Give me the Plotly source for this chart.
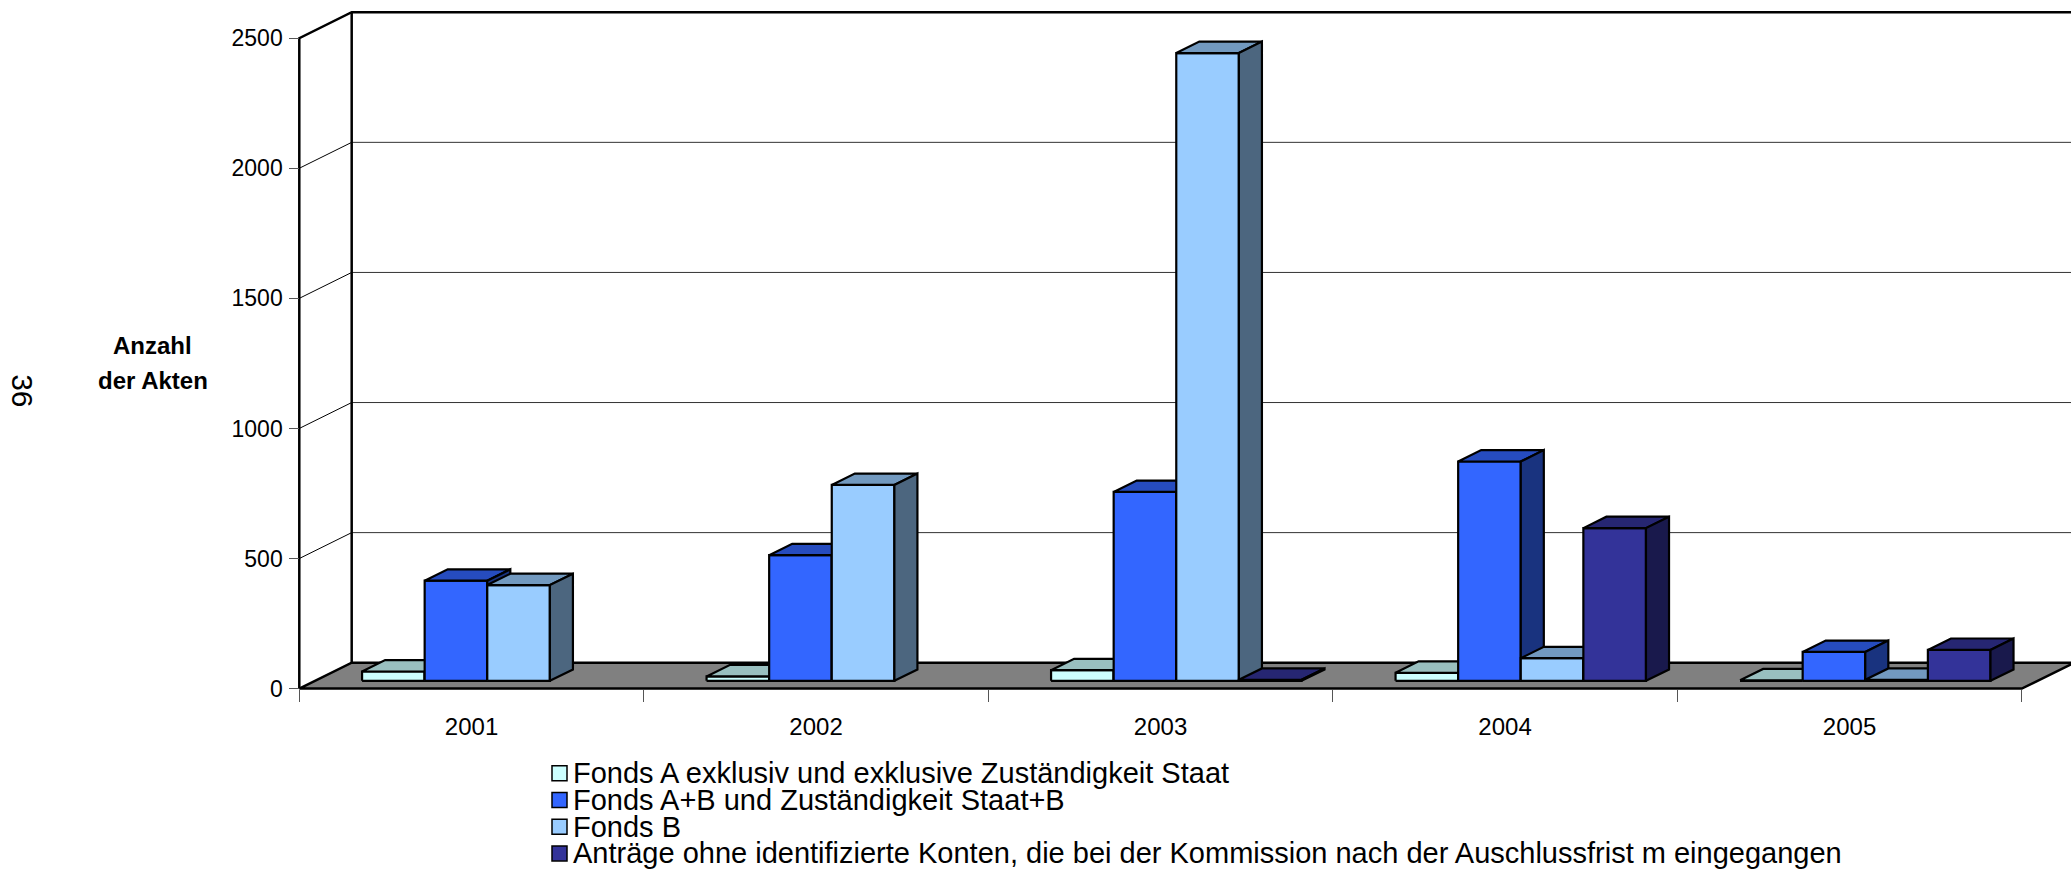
import plotly.graph_objects as go

# ---- data -------------------------------------------------------------
years = ["2001", "2002", "2003", "2004", "2005"]
series_names = [
    "Fonds A exklusiv und exklusive Zuständigkeit Staat",
    "Fonds A+B und Zuständigkeit Staat+B",
    "Fonds B",
    "Anträge ohne identifizierte Konten, die bei der Kommission nach der Auschlussfrist m eingegangen",
]
fonds_a_exklusiv = [36, 17, 41, 31, 2]
fonds_ab_staat_b = [385, 483, 726, 843, 111]
fonds_b = [368, 753, 2413, 87, 4]
antraege_ohne_konten = [None, None, 4, 587, 119]
value_ticks = [0, 500, 1000, 1500, 2000, 2500]
axis_title = ["Anzahl", "der Akten"]
page_number = "36"

series_values = [fonds_a_exklusiv, fonds_ab_staat_b, fonds_b, antraege_ohne_konten]
front_colors = ["#CCFFFF", "#3366FF", "#99CCFF", "#333399"]

# ---- layout geometry (pixels) -------------------------------------------
W, H = 2071, 873
ORIGIN_X_PX = 299.3      # front-left corner of the floor
ORIGIN_Y_PX = 691.0      # front edge of the floor
CAT_PX = 344.5           # width of one category
UNIT_PX = 0.26108        # pixels per value unit
FONT = "Arial, Liberation Sans, sans-serif"

# oblique depth of the 3-D box, in axis units
DEPTH_X = 52.4 / CAT_PX
DEPTH_Y = 26.0 / UNIT_PX
Y_MAX = value_ticks[-1]

# bar layout inside each category
BAR_W = 62.6 / CAT_PX
GAP = (1 - len(series_values) * BAR_W) / 2
BAR_FRONT = 0.30         # depth fraction where the bar front sits
BAR_DEPTH = 0.44         # depth fraction occupied by the bar

X_LO, Y_LO, Y_HI = -0.03, -40, Y_MAX + DEPTH_Y + 20
X_HI = (W - ORIGIN_X_PX) / CAT_PX
N = len(years)


def shade(hex_color, k):
    r, g, b = (int(hex_color[i:i + 2], 16) for i in (1, 3, 5))
    return "#{:02X}{:02X}{:02X}".format(int(r * k), int(g * k), int(b * k))


fig = go.Figure()


def polygon(xs, ys, fill, width=2.2):
    fig.add_trace(go.Scatter(
        x=list(xs) + [xs[0]], y=list(ys) + [ys[0]], mode="lines",
        fill="toself", fillcolor=fill,
        line=dict(color="black", width=width),
        hoverinfo="skip", showlegend=False))


def line(xs, ys, width=1.0, color="black"):
    fig.add_trace(go.Scatter(
        x=xs, y=ys, mode="lines", line=dict(color=color, width=width),
        hoverinfo="skip", showlegend=False))


# floor
polygon([0, N, N + DEPTH_X, DEPTH_X], [0, 0, DEPTH_Y, DEPTH_Y], "#808080", 2.5)

# gridlines on the back wall and the side wall
for v in value_ticks[1:-1]:
    line([DEPTH_X, X_HI + 1], [v + DEPTH_Y, v + DEPTH_Y], 1.0, "#333333")
    line([0, DEPTH_X], [v, v + DEPTH_Y], 1.0, "black")

# wall outlines
line([0, 0, DEPTH_X, X_HI + 1], [0, Y_MAX, Y_MAX + DEPTH_Y, Y_MAX + DEPTH_Y], 2.5)
line([DEPTH_X, DEPTH_X], [DEPTH_Y, Y_MAX + DEPTH_Y], 2.5)

# 3-D columns, drawn left to right so nearer faces overlap farther ones
dx, dy = BAR_DEPTH * DEPTH_X, BAR_DEPTH * DEPTH_Y
for i in range(N):
    for j, values in enumerate(series_values):
        v = values[i]
        if v is None:
            continue
        x0 = i + GAP + BAR_FRONT * DEPTH_X + j * BAR_W
        x1 = x0 + BAR_W
        y0 = BAR_FRONT * DEPTH_Y
        y1 = y0 + v
        c = front_colors[j]
        polygon([x0, x1, x1, x0], [y0, y0, y1, y1], c)
        polygon([x0, x1, x1 + dx, x0 + dx], [y1, y1, y1 + dy, y1 + dy], shade(c, 0.75))
        polygon([x1, x1 + dx, x1 + dx, x1], [y0, y0 + dy, y1 + dy, y1], shade(c, 0.5))

# ---- axes ----------------------------------------------------------------
x_dom0 = (ORIGIN_X_PX + X_LO * CAT_PX) / W
y_dom0 = (H - (ORIGIN_Y_PX - Y_LO * UNIT_PX)) / H
y_dom1 = (H - (ORIGIN_Y_PX - Y_HI * UNIT_PX)) / H

fig.update_layout(
    width=W, height=H,
    margin=dict(l=0, r=0, t=0, b=0),
    paper_bgcolor="white", plot_bgcolor="white",
    showlegend=False,
    font=dict(family=FONT, color="black"),
    xaxis=dict(
        domain=[x_dom0, 1], range=[X_LO, X_HI],
        anchor="free", position=(H - ORIGIN_Y_PX) / H,
        showgrid=False, zeroline=False, showline=False,
        tickvals=[i + 0.5 for i in range(N)], ticktext=years, ticks="",
        tickfont=dict(size=24, family=FONT),
        ticklabelstandoff=21,
        minor=dict(tickvals=list(range(N + 1)), ticks="outside",
                   ticklen=12, tickcolor="#555555", tickwidth=1,
                   showgrid=False),
    ),
    yaxis=dict(
        domain=[y_dom0, y_dom1], range=[Y_LO, Y_HI],
        anchor="free", position=ORIGIN_X_PX / W,
        showgrid=False, zeroline=False, showline=False,
        tickvals=value_ticks, ticks="outside", ticklen=10,
        tickcolor="#555555", tickwidth=1,
        tickfont=dict(size=23, family=FONT),
        ticklabelstandoff=2,
    ),
)

# ---- text -----------------------------------------------------------------
def px_x(p):
    return p / W


def px_y(p):
    return 1 - p / H


annotations = [
    dict(text="<b>%s</b>" % axis_title[0], x=px_x(152), y=px_y(346.7),
         font=dict(size=24, family=FONT)),
    dict(text="<b>%s</b>" % axis_title[1], x=px_x(152.5), y=px_y(381.7),
         font=dict(size=24, family=FONT)),
    dict(text=page_number, x=px_x(22.5), y=px_y(392), textangle=90,
         font=dict(size=30, family=FONT)),
]

# legend: colour key and label per series, in tightly spaced rows
LEG_BOX_X0, LEG_BOX_X1, LEG_TEXT_X = 552, 567, 571
LEG_ROW0, LEG_ROW_STEP = 776, 26.8
shapes = []
for j, name in enumerate(series_names):
    yc = LEG_ROW0 + j * LEG_ROW_STEP
    shapes.append(dict(type="rect", xref="paper", yref="paper",
                       x0=px_x(LEG_BOX_X0), x1=px_x(LEG_BOX_X1),
                       y0=px_y(yc + 7.5), y1=px_y(yc - 7.5),
                       fillcolor=front_colors[j],
                       line=dict(color="black", width=1.5)))
    annotations.append(dict(text=name, x=px_x(LEG_TEXT_X), y=px_y(yc),
                            xanchor="left", yanchor="middle",
                            font=dict(size=29, family=FONT)))

for a in annotations:
    a.setdefault("xref", "paper")
    a.setdefault("yref", "paper")
    a.setdefault("showarrow", False)
    a.setdefault("xanchor", "center")
    a.setdefault("yanchor", "middle")

fig.update_layout(annotations=annotations, shapes=shapes)

fig.write_html("out.html")
